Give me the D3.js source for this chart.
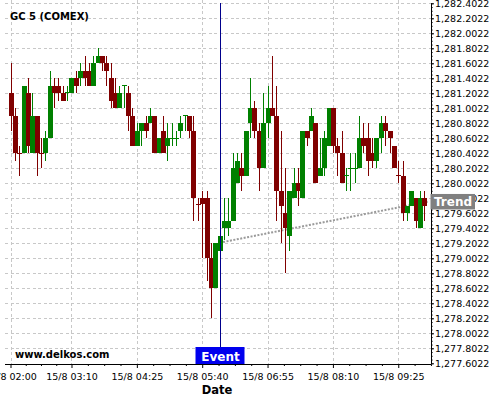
<!DOCTYPE html>
<html>
<head>
<meta charset="utf-8">
<script src="https://cdn.jsdelivr.net/npm/d3@7"></script>
<style>
  body { margin: 0; background: #fff; }
  text { font-family: "DejaVu Sans", sans-serif; }
</style>
</head>
<body>
<script>
// 5-minute candles, 15/8, starting 02:00
var candleStart = "02:00";
var candleStepMin = 5;

var opens = [
    1281.2, 1280.9, 1280.41, 1280.4, 1281.2, 1280.4, 1280.9, 1280.41, 1280.4, 1280.6,
    1281.3, 1281.3, 1281.2, 1281.2, 1281.2, 1281.4, 1281.4, 1281.5, 1281.5, 1281.3,
    1281.6, 1281.7, 1281.6, 1281.4, 1281.2, 1281.0, 1281.3, 1281.2, 1280.9, 1280.5,
    1280.7, 1280.8, 1280.8, 1280.9, 1280.4, 1280.7, 1280.5, 1280.6, 1280.6, 1280.7,
    1280.9, 1280.9, 1280.7, 1279.73, 1279.8, 1279.8, 1279.0, 1278.6, 1279.1, 1279.4,
    1279.4, 1279.5, 1280.0, 1280.2, 1280.1, 1280.8, 1281.0, 1280.7, 1280.2, 1280.8,
    1281.0, 1280.9, 1279.9, 1279.6, 1279.3, 1279.8, 1280.0, 1279.8, 1280.7, 1280.7,
    1280.8, 1280.1, 1280.2, 1280.5, 1281.0, 1280.5, 1280.4, 1280.1, 1280.2, 1280.2,
    1280.2, 1280.6, 1280.6, 1280.4, 1280.3, 1280.6, 1280.8, 1280.7, 1280.5, 1280.11,
    1280.1, 1279.6, 1279.7, 1279.8, 1279.4, 1279.8
];
var highs = [
    1281.6, 1281.0, 1280.5, 1281.3, 1281.4, 1281.2, 1280.9, 1280.6, 1280.7, 1281.5,
    1281.4, 1281.4, 1281.3, 1281.3, 1281.4, 1281.5, 1281.6, 1281.7, 1281.6, 1281.7,
    1281.8, 1281.7, 1281.7, 1281.6, 1281.4, 1281.3, 1281.31, 1281.3, 1281.0, 1280.8,
    1280.8, 1280.9, 1281.0, 1280.9, 1280.6, 1280.9, 1280.8, 1280.8, 1280.7, 1280.9,
    1280.91, 1280.9, 1280.9, 1279.8, 1279.9, 1279.9, 1279.2, 1279.2, 1279.3, 1279.8,
    1279.8, 1280.4, 1280.4, 1280.4, 1280.7, 1281.4, 1281.1, 1280.8, 1281.2, 1281.3,
    1281.7, 1281.3, 1280.7, 1280.2, 1279.9, 1280.2, 1280.2, 1280.7, 1280.7, 1281.0,
    1280.8, 1280.6, 1280.7, 1281.0, 1281.0, 1280.6, 1280.7, 1280.2, 1280.4, 1280.4,
    1280.9, 1280.8, 1280.8, 1280.6, 1280.6, 1280.9, 1280.9, 1280.7, 1280.5, 1280.3,
    1280.3, 1279.7, 1279.9, 1279.8, 1279.9, 1279.9
];
var lows = [
    1280.7, 1280.3, 1280.1, 1280.4, 1280.4, 1280.4, 1280.1, 1280.2, 1280.3, 1280.6,
    1281.0, 1281.1, 1281.1, 1281.1, 1281.2, 1281.2, 1281.3, 1281.3, 1281.3, 1281.3,
    1281.6, 1281.5, 1281.3, 1281.0, 1281.0, 1281.0, 1281.0, 1280.7, 1280.5, 1280.5,
    1280.5, 1280.6, 1280.8, 1280.4, 1280.4, 1280.4, 1280.3, 1280.5, 1280.5, 1280.6,
    1280.7, 1280.6, 1279.5, 1279.5, 1279.0, 1278.7, 1278.2, 1278.6, 1279.1, 1279.25,
    1279.3, 1279.5, 1280.0, 1279.9, 1280.1, 1280.6, 1280.6, 1279.9, 1280.2, 1280.6,
    1280.9, 1279.5, 1279.2, 1278.8, 1279.1, 1279.8, 1279.7, 1279.8, 1280.5, 1280.7,
    1280.0, 1280.1, 1280.1, 1280.5, 1280.4, 1280.1, 1280.0, 1279.9, 1279.9, 1280.0,
    1280.2, 1280.4, 1280.1, 1280.2, 1280.2, 1280.4, 1280.5, 1280.4, 1280.2, 1280.0,
    1279.5, 1279.5, 1279.7, 1279.4, 1279.4, 1279.5
];
var closes = [
    1280.9, 1280.4, 1280.4, 1281.3, 1280.5, 1280.9, 1280.4, 1280.4, 1280.6, 1281.3,
    1281.2, 1281.2, 1281.1, 1281.22, 1281.4, 1281.3, 1281.5, 1281.4, 1281.3, 1281.6,
    1281.7, 1281.6, 1281.5, 1281.1, 1281.0, 1281.2, 1281.31, 1280.9, 1280.5, 1280.7,
    1280.8, 1280.7, 1280.9, 1280.4, 1280.6, 1280.4, 1280.6, 1280.61, 1280.61, 1280.8,
    1280.91, 1280.7, 1279.8, 1279.72, 1279.72, 1279.0, 1278.6, 1279.2, 1279.3, 1279.5,
    1279.5, 1280.2, 1280.3, 1280.1, 1280.7, 1281.0, 1280.7, 1280.2, 1280.8, 1281.0,
    1280.9, 1279.9, 1279.7, 1279.4, 1279.9, 1280.0, 1279.9, 1280.7, 1280.6, 1280.9,
    1280.0, 1280.2, 1280.6, 1281.0, 1280.5, 1280.4, 1280.0, 1280.11, 1280.21, 1280.21,
    1280.6, 1280.5, 1280.3, 1280.3, 1280.6, 1280.8, 1280.7, 1280.6, 1280.2, 1280.1,
    1279.6, 1279.7, 1279.9, 1279.5, 1279.8, 1279.7
];

var xTickLabels = ["02:00", "03:10", "04:25", "05:40", "06:55", "08:10", "09:25"];
var yTickValues = [
    1277.6022, 1277.8022, 1278.0022, 1278.2022, 1278.4022, 1278.6022, 1278.8022,
    1279.0022, 1279.2022, 1279.4022, 1279.6022, 1279.8022, 1280.0022, 1280.2022,
    1280.4022, 1280.6022, 1280.8022, 1281.0022, 1281.2022, 1281.4022, 1281.6022,
    1281.8022, 1282.0022, 1282.2022, 1282.4022
];

var eventTime = "06:00";
var eventLabel = "Event";
var trendTimes = ["06:00", "10:00"];
var trendPrices = [1279.21, 1279.76];
var trendLabel = "Trend";

(function() {
    var width = 500, height = 400;
    var plot = {left: 5, right: 431, top: 3.3, bottom: 364};
    var up = "#008000", down = "#800000", grid = "#c8c8c8";

    var parse = d3.timeParse("%H:%M");
    var fmt = d3.timeFormat("%H:%M");
    var t0 = parse(candleStart);

    var candles = opens.map((o, i) => ({
        t: d3.timeMinute.offset(t0, i * candleStepMin),
        o: o, h: highs[i], l: lows[i], c: closes[i]
    }));

    var svg = d3.select("body").append("svg")
        .attr("width", width)
        .attr("height", height);

    var x = d3.scaleTime()
        .domain([t0, candles[candles.length - 1].t])
        .range([10.5, 424.4]);
    var y = d3.scaleLinear()
        .domain([yTickValues[0], yTickValues[yTickValues.length - 1]])
        .range([363.3, 3.3]);

    var xTicks = xTickLabels.map(parse);

    // grid
    var gridG = svg.append("g")
        .attr("stroke", grid)
        .attr("stroke-dasharray", "3,2.5")
        .attr("shape-rendering", "crispEdges");
    gridG.selectAll(".hgrid")
        .data(yTickValues.slice(1))
        .enter().append("line")
        .attr("x1", plot.left).attr("x2", plot.right)
        .attr("y1", d => Math.round(y(d)) + 0.5)
        .attr("y2", d => Math.round(y(d)) + 0.5);
    gridG.selectAll(".vgrid")
        .data(xTicks)
        .enter().append("line")
        .attr("x1", d => Math.round(x(d)) + 0.5)
        .attr("x2", d => Math.round(x(d)) + 0.5)
        .attr("y1", 0).attr("y2", plot.bottom);

    // title & watermark
    svg.append("text")
        .attr("x", 10).attr("y", 19.5)
        .attr("font-size", 10).attr("font-weight", "bold")
        .text("GC 5 (COMEX)");
    svg.append("text")
        .attr("x", 15).attr("y", 358)
        .attr("font-size", 10).attr("font-weight", "bold")
        .text("www.delkos.com");

    // trend line
    var trendPts = trendTimes.map((t, i) => [x(parse(t)), y(trendPrices[i])]);
    svg.append("path")
        .attr("d", d3.line()(trendPts))
        .attr("fill", "none")
        .attr("stroke", "#9a9a9a")
        .attr("stroke-width", 2)
        .attr("stroke-dasharray", "2,1.5");

    // candles
    var candleG = svg.append("g").attr("shape-rendering", "crispEdges");
    var cg = candleG.selectAll(".candle")
        .data(candles)
        .enter().append("g")
        .attr("class", "candle");
    cg.append("line")
        .attr("x1", d => Math.round(x(d.t)) + 0.5)
        .attr("x2", d => Math.round(x(d.t)) + 0.5)
        .attr("y1", d => y(d.h))
        .attr("y2", d => y(d.l))
        .attr("stroke", d => d.c >= d.o ? up : down);
    cg.append("rect")
        .attr("x", d => Math.round(x(d.t)) - 2)
        .attr("width", 5)
        .attr("y", d => y(Math.max(d.o, d.c)))
        .attr("height", d => Math.max(1, Math.abs(y(d.o) - y(d.c))))
        .attr("fill", d => d.c >= d.o ? up : down);

    // event marker
    var ex = Math.round(x(parse(eventTime))) + 0.5;
    svg.append("line")
        .attr("x1", ex).attr("x2", ex)
        .attr("y1", plot.top).attr("y2", 347)
        .attr("stroke", "#00008c")
        .attr("shape-rendering", "crispEdges");
    svg.append("rect")
        .attr("x", ex - 25).attr("y", 347)
        .attr("width", 49).attr("height", plot.bottom - 347)
        .attr("fill", "#0000ee");
    svg.append("text")
        .attr("x", ex).attr("y", 360.5)
        .attr("text-anchor", "middle")
        .attr("font-size", 12).attr("font-weight", "bold")
        .attr("fill", "#fff")
        .text(eventLabel);

    // x axis
    var minorX = [];
    for (var i = 0; i < xTicks.length; i++) {
        var a = xTicks[i];
        var step = i < xTicks.length - 1 ? (xTicks[i + 1] - a) / 4 : (a - xTicks[i - 1]) / 4;
        for (var k = 1; k < 4; k++) minorX.push(new Date(+a + k * step));
        if (i === xTicks.length - 1) minorX.push(new Date(+a + 4 * step));
    }
    var xAxisG = svg.append("g")
        .attr("transform", `translate(0,${plot.bottom})`);
    xAxisG.append("g")
        .call(d3.axisBottom(x).tickValues(minorX.filter(d => x(d) < plot.right)).tickSize(2).tickFormat(""))
        .call(g => g.select(".domain").remove());
    xAxisG.append("g")
        .call(d3.axisBottom(x).tickValues(xTicks).tickSize(4).tickPadding(5)
            .tickFormat(d => "15/8 " + fmt(d)))
        .call(g => g.select(".domain").remove())
        .selectAll("text")
        .attr("font-family", "DejaVu Sans")
        .attr("font-size", 9.5);
    xAxisG.append("line")
        .attr("x1", plot.left).attr("x2", plot.right)
        .attr("y1", 0.5).attr("y2", 0.5)
        .attr("stroke", "#000");

    // y axis
    var minorY = d3.range(0, 97).map(j => yTickValues[0] + j * 0.05);
    var yAxisG = svg.append("g")
        .attr("transform", `translate(${plot.right},0)`);
    yAxisG.append("g")
        .call(d3.axisRight(y).tickValues(minorY).tickSize(2).tickFormat(""))
        .call(g => g.select(".domain").remove())
        .selectAll("line").attr("stroke", "#666");
    yAxisG.append("g")
        .call(d3.axisRight(y).tickValues(yTickValues).tickSize(3).tickPadding(1)
            .tickFormat(d3.format(",.4f")))
        .call(g => g.select(".domain").remove())
        .selectAll("text")
        .attr("font-family", "DejaVu Sans")
        .attr("font-size", 9.5);
    yAxisG.append("line")
        .attr("x1", 0.5).attr("x2", 0.5)
        .attr("y1", plot.top).attr("y2", plot.bottom)
        .attr("stroke", "#000");

    // trend label
    var ty = trendPts[1][1];
    svg.append("rect")
        .attr("x", plot.right - 0.5).attr("y", ty - 7.5)
        .attr("width", 44.5).attr("height", 15.5)
        .attr("fill", "#808080");
    svg.append("text")
        .attr("x", 434).attr("y", ty + 5)
        .attr("font-size", 12).attr("font-weight", "bold")
        .attr("fill", "#fff")
        .text(trendLabel);

    svg.append("text")
        .attr("x", 217).attr("y", 393.5)
        .attr("text-anchor", "middle")
        .attr("font-size", 11.5).attr("font-weight", "bold")
        .text("Date");
})();
</script>
</body>
</html>
